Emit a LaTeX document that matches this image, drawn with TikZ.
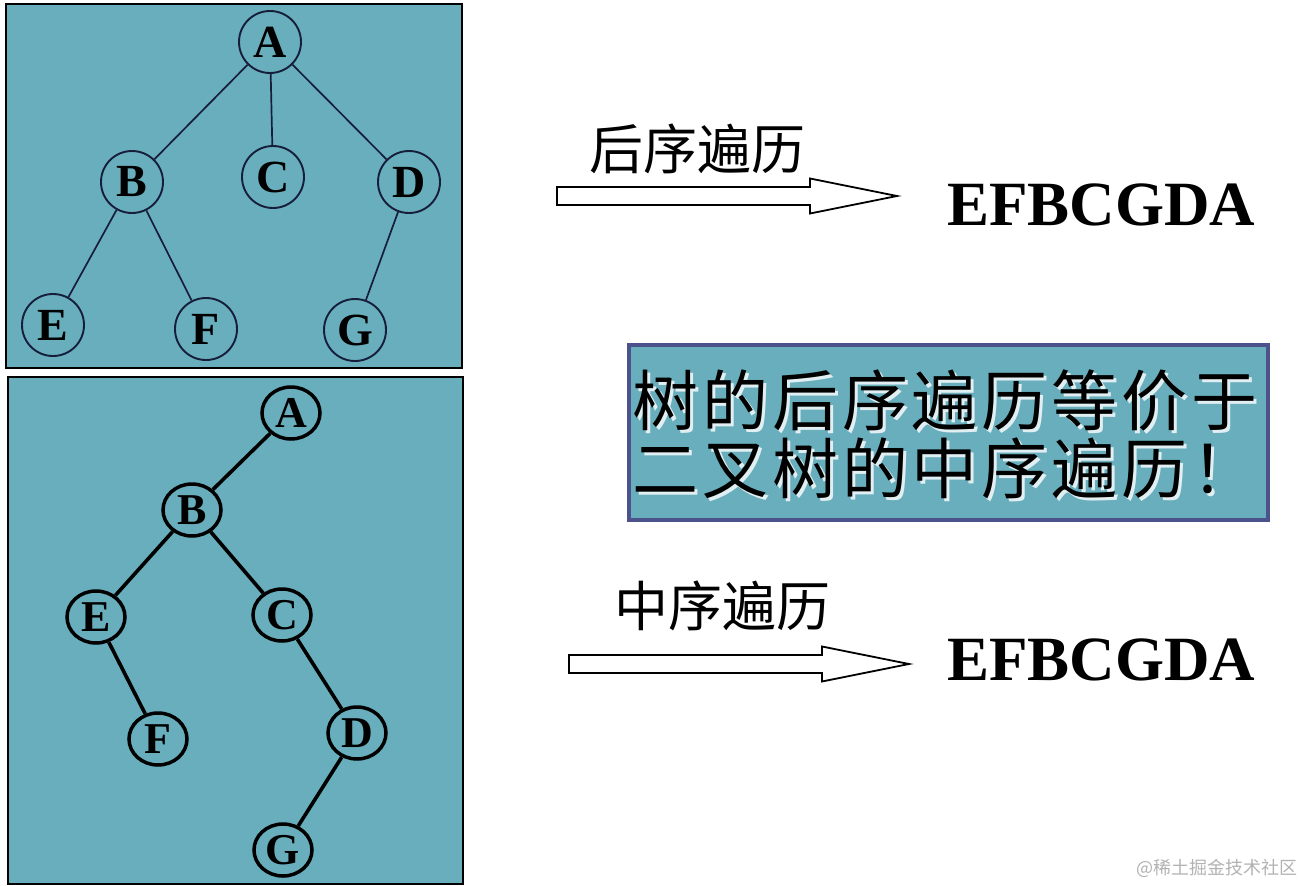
\documentclass[tikz,border=0pt]{standalone}
\usepackage{fontspec}
\setmainfont{Liberation Serif}
\newfontfamily\cjkfont{Noto Sans CJK SC}
\newfontfamily\cjkwide[LetterSpace=6]{Noto Sans CJK SC}
\usetikzlibrary{shapes.geometric, calc}

\definecolor{treebg}{RGB}{104,174,189}
\definecolor{treeline}{RGB}{22,30,58}
\definecolor{boxline}{RGB}{75,82,140}

\begin{document}
\begin{tikzpicture}[x=1pt, y=-1pt,
  tnode/.style={circle, draw=treeline, line width=1.9pt, minimum size=62pt, inner sep=0pt,
    font=\fontsize{46}{46}\selectfont\bfseries},
  bnode/.style={ellipse, draw=black, line width=3.5pt, minimum width=58pt, minimum height=52pt, inner sep=0pt,
    font=\fontsize{44}{44}\selectfont\bfseries},
  tedge/.style={draw=treeline, line width=1.7pt},
  bedge/.style={draw=black, line width=3.6pt},
  lbl/.style={inner sep=0pt, font=\cjkfont\fontsize{54}{54}\selectfont},
  seq/.style={inner sep=0pt, font=\fontsize{63}{63}\selectfont\bfseries},
  claim/.style={inner sep=0pt, anchor=west, font=\cjkwide\fontsize{66}{66}\selectfont},
]
  \useasboundingbox (0,0) rectangle (1304,886);

  % Panels
  \draw[fill=treebg, draw=black, line width=2pt] (6,4) rectangle (462,368);
  \draw[fill=treebg, draw=black, line width=2pt] (8,377) rectangle (463,884);
  \draw[fill=treebg, draw=boxline, line width=4pt] (629,345) rectangle (1268,520);

  % Tree
  \node[tnode] (tA) at (270,42) {A};
  \node[tnode] (tB) at (132,182) {B};
  \node[tnode] (tC) at (273,177) {C};
  \node[tnode] (tD) at (409,182) {D};
  \node[tnode] (tE) at (53,325) {E};
  \node[tnode] (tF) at (206,329) {F};
  \node[tnode] (tG) at (355,330) {G};
  \foreach \p/\c in {tA/tB, tA/tC, tA/tD, tB/tE, tB/tF, tD/tG}
    \draw[tedge] (\p) -- (\c);

  % Binary tree
  \node[bnode] (bA) at (291,413) {A};
  \node[bnode] (bB) at (192,510) {B};
  \node[bnode] (bE) at (96,617) {E};
  \node[bnode] (bC) at (282,615) {C};
  \node[bnode] (bF) at (158,739) {F};
  \node[bnode] (bD) at (357,733) {D};
  \node[bnode] (bG) at (283,850) {G};
  \foreach \p/\c in {bA/bB, bB/bE, bB/bC, bE/bF, bC/bD, bD/bG}
    \draw[bedge] (\p) -- (\c);

  % Hollow arrows
  \newcommand{\hollowarrow}[2]{
    \draw[line width=1.8pt, fill=white, line join=miter]
      (#1,#2-9) -- ++(253,0) -- ++(0,-8.5) -- (#1+340,#2)
      -- (#1+253,#2+17.5) -- ++(0,-8.5) -- (#1,#2+9) -- cycle;
  }
  \hollowarrow{557}{196}
  \hollowarrow{569}{664}

  \node[lbl] (postlbl) at (697,149) {后序遍历};
  \node[lbl] (inlbl) at (722,606) {中序遍历};
  \node[seq] (postseq) at (1101,205) {EFBCGDA};
  \node[seq] (inseq) at (1101,660) {EFBCGDA};

  % Claim with light shadow
  \node[claim, text=white!80!treebg] at (635,404) {树的后序遍历等价于};
  \node[claim, text=white!80!treebg] at (635,471) {二叉树的中序遍历！};
  \node[claim] (claimtop) at (632,401) {树的后序遍历等价于};
  \node[claim] (claimbot) at (632,468) {二叉树的中序遍历！};

  % Watermark
  \node[inner sep=0pt, text=black!30, font=\cjkfont\fontsize{18}{18}\selectfont] (mark) at (1217,868) {@稀土掘金技术社区};
\end{tikzpicture}
\end{document}
